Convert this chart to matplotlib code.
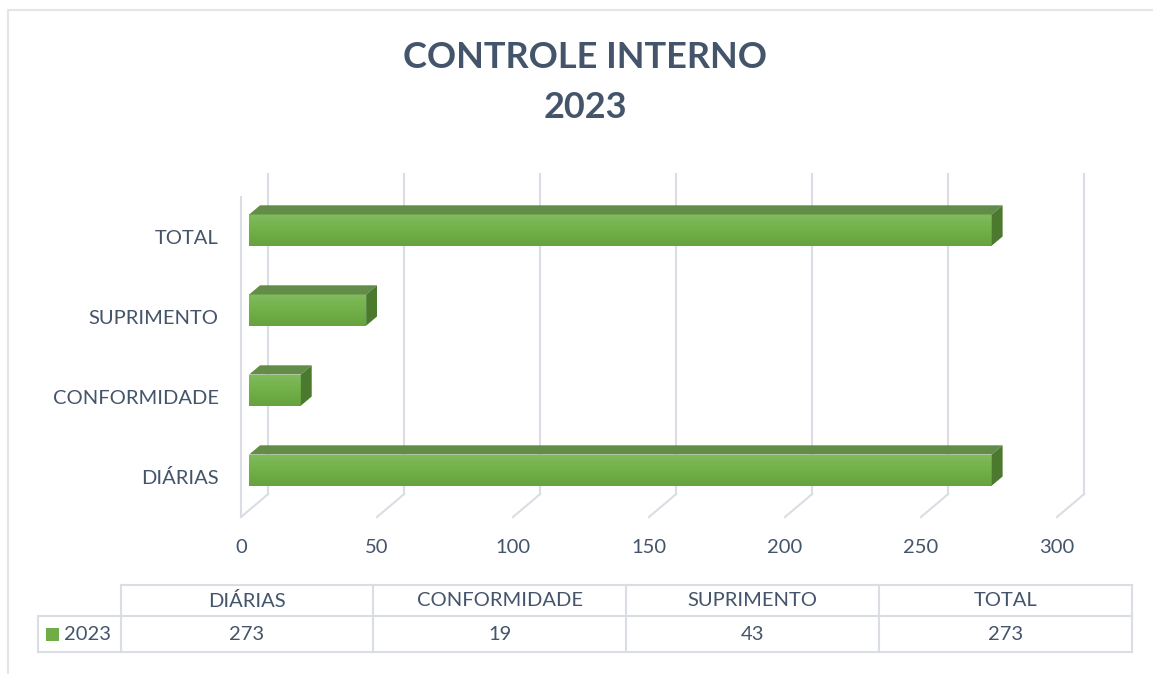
import numpy as np
import matplotlib
matplotlib.use("Agg")
from matplotlib import pyplot as plt
from matplotlib.patches import Polygon, Rectangle
from matplotlib.colors import LinearSegmentedColormap

# dados do grafico
categorias = ["DIÁRIAS", "CONFORMIDADE", "SUPRIMENTO", "TOTAL"]
valores_2023 = [273, 19, 43, 273]
serie = "2023"
ticks_x = [0, 50, 100, 150, 200, 250, 300]

cor_texto = "#44546A"
cor_grade = "#DADDE4"
plt.rcParams['font.family'] = ['Lato', 'DejaVu Sans']
fs = 14.5

W, H = 1153, 674
fig = plt.figure(figsize=(W / 100, H / 100), dpi=100)

# eixo de fundo em pixels (titulo, moldura, tabela)
bg = fig.add_axes([0, 0, 1, 1])
bg.set_xlim(0, W)
bg.set_ylim(H, 0)
bg.axis("off")
bg.plot([8, 8, W], [H, 10, 10], color="#E3E5EA", lw=1.5)
bg.text(585, 58, "CONTROLE INTERNO", ha="center", va="center",
        fontsize=26, fontweight="bold", color=cor_texto)
bg.text(585, 108, "2023", ha="center", va="center",
        fontsize=26, fontweight="bold", color=cor_texto)

# eixo principal (plano frontal)
ax = fig.add_axes([241 / W, (H - 517) / H, 816 / W, 320 / H])
ax.patch.set_alpha(0)
for s in ax.spines.values():
    s.set_visible(False)

# profundidade 3D em unidades de dados
dx, dy = 10, 0.2875
ymin, ymax = -0.5, 3.5

for t in ticks_x:
    # linha da parede de fundo
    ax.plot([t + dx, t + dx], [ymin + dy, ymax + dy], color=cor_grade, lw=1.5,
            clip_on=False, zorder=1)
    # diagonal do piso
    ax.plot([t, t + dx], [ymin, ymin + dy], color=cor_grade, lw=1.5,
            clip_on=False, zorder=1)
# parede lateral
ax.plot([0, 0], [ymin, ymax], color=cor_grade, lw=1.5, clip_on=False, zorder=1)

grad = LinearSegmentedColormap.from_list("g", ["#66A23D", "#72B049", "#80BC5C"])
h = 0.39
f0, f1 = 0.3, 0.7
for i, v in enumerate(valores_2023):
    x0 = f0 * dx
    yc = i + f0 * dy
    yb, yt = yc - h / 2, yc + h / 2
    ox, oy = (f1 - f0) * dx, (f1 - f0) * dy
    frente = Rectangle((x0, yb), v, h, facecolor="#70AD47", edgecolor="none",
                       zorder=3, clip_on=False)
    ax.add_patch(frente)
    img = ax.imshow(np.linspace(0, 1, 50).reshape(-1, 1), cmap=grad, origin="lower",
                    extent=(x0, x0 + v, yb, yt), aspect="auto", zorder=3)
    img.set_clip_path(frente)
    topo = Polygon([(x0, yt), (x0 + v, yt), (x0 + v + ox, yt + oy), (x0 + ox, yt + oy)],
                   closed=True, facecolor="#628C47", edgecolor="none", zorder=4,
                   clip_on=False)
    lado = Polygon([(x0 + v, yb), (x0 + v, yt), (x0 + v + ox, yt + oy), (x0 + v + ox, yb + oy)],
                   closed=True, facecolor="#4B7A2E", edgecolor="none", zorder=4,
                   clip_on=False)
    ax.add_patch(topo)
    ax.add_patch(lado)

ax.set_xlim(0, 300)
ax.set_ylim(ymin, ymax)
ax.set_xticks(ticks_x)
ax.set_xticklabels([str(t) for t in ticks_x])
ax.set_yticks(range(len(categorias)))
ax.set_yticklabels(categorias)
ax.tick_params(axis="x", length=0, pad=16, labelsize=fs, labelcolor=cor_texto)
ax.tick_params(axis="y", length=0, pad=16, labelsize=fs, labelcolor=cor_texto)

# tabela de dados
cols = [121, 373, 626, 879, 1132]
y_top, y_mid, y_bot = 585, 616, 652
bg.plot([121, 1132], [y_top, y_top], color=cor_grade, lw=1.5)
bg.plot([38, 1132], [y_mid, y_mid], color=cor_grade, lw=1.5)
bg.plot([38, 1132], [y_bot, y_bot], color=cor_grade, lw=1.5)
bg.plot([38, 38], [y_mid, y_bot], color=cor_grade, lw=1.5)
for c in cols:
    bg.plot([c, c], [y_top, y_bot], color=cor_grade, lw=1.5)
for k, (cat, v) in enumerate(zip(categorias, valores_2023)):
    xc = (cols[k] + cols[k + 1]) / 2
    bg.text(xc, 601, cat, ha="center", va="center", fontsize=fs, color=cor_texto)
    bg.text(xc, 635, str(v), ha="center", va="center", fontsize=fs, color=cor_texto)
bg.add_patch(Rectangle((46, 628), 13, 13, facecolor="#70AD47", edgecolor="none"))
bg.text(64, 635, serie, ha="left", va="center", fontsize=fs, color=cor_texto)

fig.savefig("out.png", dpi=100)
